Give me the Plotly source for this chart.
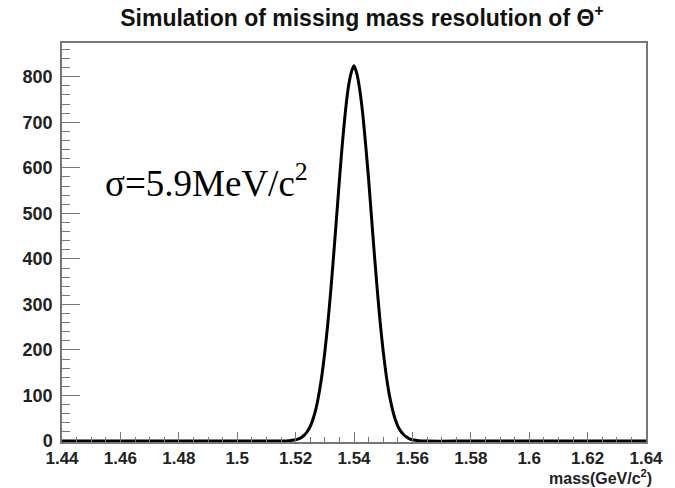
import plotly.graph_objects as go

# Histogram of simulated missing mass (GeV/c^2) and counts per bin
mass = [1.440, 1.500, 1.510, 1.515, 1.518, 1.519, 1.520, 1.521, 1.522, 1.523, 1.524,
        1.525, 1.526, 1.527, 1.528, 1.529, 1.530, 1.531, 1.532, 1.533, 1.534,
        1.535, 1.536, 1.537, 1.538, 1.539, 1.540, 1.541, 1.542, 1.543, 1.544,
        1.545, 1.546, 1.547, 1.548, 1.549, 1.550, 1.551, 1.552, 1.553, 1.554,
        1.555, 1.556, 1.557, 1.558, 1.559, 1.560, 1.561, 1.562, 1.565, 1.580, 1.640]
counts = [0, 0, 0, 0, 1, 2, 3, 5, 8, 13, 21,
          32, 49, 72, 104, 144, 195, 256, 327, 406, 489,
          573, 652, 720, 774, 808, 824, 806, 770, 718, 650,
          575, 491, 408, 330, 258, 197, 146, 105, 74, 50,
          33, 22, 14, 9, 5, 3, 2, 1, 0, 0, 0]

x_ticks = [1.44, 1.46, 1.48, 1.50, 1.52, 1.54, 1.56, 1.58, 1.60, 1.62, 1.64]
x_tick_labels = ["1.44", "1.46", "1.48", "1.5", "1.52", "1.54", "1.56", "1.58", "1.6", "1.62", "1.64"]
y_ticks = [0, 100, 200, 300, 400, 500, 600, 700, 800]

title_text = "<b>Simulation of missing mass resolution of Θ<sup>+</sup></b>"
sigma_text = "σ=5.9MeV/c<sup>2</sup>"
x_title = "<b>mass(GeV/c<sup>2</sup>)</b>"

fig = go.Figure()
fig.add_trace(go.Scatter(
    x=mass, y=counts, mode="lines",
    line=dict(color="black", width=3, shape="spline", smoothing=0.6),
    showlegend=False, hoverinfo="skip",
))

label_font = dict(family="Liberation Sans, Arial, sans-serif", size=18, color="#222222", weight="bold")
xlabel_font = dict(family="Liberation Sans, Arial, sans-serif", size=17, color="#222222", weight="bold")

fig.update_layout(
    width=675, height=488,
    margin=dict(l=62, r=20, t=43, b=46),
    paper_bgcolor="white", plot_bgcolor="white",
    title=dict(text=title_text, x=362 / 675, xanchor="center", xref="container",
               y=1 - 18 / 488, yanchor="middle", yref="container",
               font=dict(family="Liberation Sans, Arial, sans-serif", size=23, color="#111111")),
    xaxis=dict(
        range=[1.44, 1.64], tickvals=x_ticks, ticktext=x_tick_labels,
        ticks="inside", ticklen=10, tickwidth=1, tickcolor="#777777",
        showline=True, linecolor="#777777", linewidth=1.5, mirror=True,
        showgrid=False, zeroline=False, tickfont=xlabel_font, ticklabelstandoff=0,
        minor=dict(dtick=0.005, tick0=1.44, ticks="inside", ticklen=5, tickcolor="#777777", showgrid=False),
    ),
    yaxis=dict(
        range=[-2, 874], tickvals=y_ticks,
        ticks="inside", ticklen=18, tickwidth=1, tickcolor="#777777",
        showline=True, linecolor="#777777", linewidth=1.5, mirror=True,
        showgrid=False, zeroline=False, tickfont=label_font, ticklabelstandoff=4,
        minor=dict(dtick=20, tick0=0, ticks="inside", ticklen=8, tickcolor="#777777", showgrid=False),
    ),
    annotations=[
        dict(text=sigma_text, xref="paper", yref="paper", x=(104 - 62) / 593, y=(442 - 180) / 399,
             xanchor="left", yanchor="middle", showarrow=False,
             font=dict(family="Liberation Serif, Times New Roman, serif", size=37, color="black")),
        dict(text=x_title, xref="paper", yref="paper", x=(662 - 62) / 593, y=(442 - 488) / 399,
             xanchor="right", yanchor="bottom", showarrow=False, borderpad=0,
             font=dict(family="Liberation Sans, Arial, sans-serif", size=16, color="#222222")),
    ],
)

fig.write_html("out.html")
